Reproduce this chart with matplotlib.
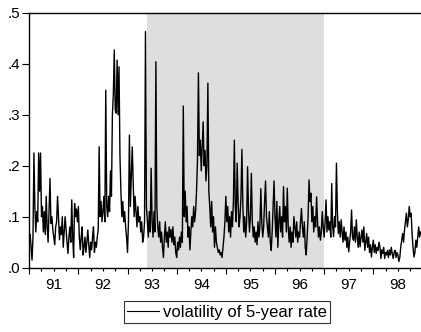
import numpy as np
import matplotlib
matplotlib.use("Agg")
import matplotlib.pyplot as plt
from matplotlib.ticker import FixedLocator, FuncFormatter

plt.rcParams["font.family"] = ["Liberation Sans", "DejaVu Sans"]

# weekly volatility of the 5-year rate, one list per year
vol_1991 = [0.06, 0.065, 0.04, 0.015, 0.06, 0.225, 0.12, 0.07, 0.11, 0.09, 0.225, 0.15, 0.225,
            0.10, 0.12, 0.07, 0.11, 0.065, 0.14, 0.08, 0.05, 0.11, 0.175, 0.087, 0.10, 0.074,
            0.06, 0.045, 0.08, 0.09, 0.14, 0.10, 0.055, 0.08, 0.065, 0.10, 0.04, 0.07, 0.10,
            0.075, 0.05, 0.028, 0.06, 0.08, 0.05, 0.133, 0.06, 0.02, 0.126, 0.10, 0.115, 0.09]
vol_1992 = [0.12, 0.06, 0.035, 0.06, 0.08, 0.025, 0.04, 0.06, 0.03, 0.05, 0.074, 0.045, 0.02,
            0.05, 0.035, 0.06, 0.08, 0.03, 0.05, 0.04, 0.06, 0.075, 0.237, 0.10, 0.13, 0.09,
            0.11, 0.14, 0.09, 0.348, 0.12, 0.10, 0.14, 0.11, 0.19, 0.14, 0.30, 0.34, 0.427,
            0.31, 0.303, 0.407, 0.30, 0.394, 0.22, 0.15, 0.10, 0.13, 0.09, 0.11, 0.08, 0.06]
vol_1993 = [0.03, 0.09, 0.26, 0.12, 0.18, 0.237, 0.17, 0.10, 0.14, 0.11, 0.08, 0.12, 0.09,
            0.10, 0.07, 0.09, 0.05, 0.06, 0.09, 0.463, 0.12, 0.09, 0.06, 0.11, 0.07, 0.195,
            0.09, 0.06, 0.11, 0.07, 0.404, 0.12, 0.08, 0.06, 0.09, 0.05, 0.07, 0.04, 0.02,
            0.06, 0.09, 0.05, 0.07, 0.04, 0.08, 0.06, 0.075, 0.05, 0.08, 0.045, 0.06, 0.03]
vol_1994 = [0.02, 0.05, 0.035, 0.06, 0.04, 0.07, 0.05, 0.317, 0.10, 0.15, 0.09, 0.12, 0.06,
            0.08, 0.035, 0.07, 0.10, 0.08, 0.12, 0.09, 0.11, 0.15, 0.21, 0.382, 0.22, 0.25,
            0.19, 0.24, 0.286, 0.20, 0.23, 0.17, 0.20, 0.362, 0.15, 0.12, 0.08, 0.13, 0.07,
            0.10, 0.04, 0.08, 0.05, 0.04, 0.03, 0.035, 0.025, 0.03, 0.02, 0.04, 0.06, 0.09]
vol_1995 = [0.14, 0.09, 0.12, 0.07, 0.10, 0.06, 0.11, 0.08, 0.13, 0.25, 0.12, 0.09, 0.205,
            0.13, 0.08, 0.10, 0.14, 0.232, 0.12, 0.07, 0.10, 0.06, 0.09, 0.198, 0.11, 0.07,
            0.10, 0.185, 0.09, 0.06, 0.08, 0.05, 0.07, 0.045, 0.09, 0.06, 0.08, 0.155, 0.09,
            0.06, 0.08, 0.13, 0.17, 0.10, 0.08, 0.06, 0.11, 0.05, 0.034, 0.07, 0.12, 0.17]
vol_1996 = [0.10, 0.06, 0.13, 0.04, 0.09, 0.12, 0.07, 0.10, 0.06, 0.159, 0.09, 0.12, 0.07,
            0.156, 0.08, 0.05, 0.08, 0.04, 0.07, 0.05, 0.10, 0.08, 0.06, 0.09, 0.05, 0.07,
            0.06, 0.09, 0.116, 0.08, 0.06, 0.09, 0.04, 0.025, 0.06, 0.10, 0.172, 0.13, 0.146,
            0.09, 0.12, 0.07, 0.10, 0.08, 0.139, 0.09, 0.06, 0.08, 0.054, 0.07, 0.11, 0.08]
vol_1997 = [0.06, 0.09, 0.133, 0.07, 0.10, 0.074, 0.09, 0.06, 0.165, 0.08, 0.061, 0.10, 0.08,
            0.205, 0.11, 0.067, 0.09, 0.06, 0.094, 0.07, 0.05, 0.08, 0.054, 0.07, 0.04, 0.06,
            0.031, 0.05, 0.07, 0.113, 0.06, 0.054, 0.08, 0.05, 0.094, 0.06, 0.04, 0.07, 0.041,
            0.06, 0.074, 0.05, 0.08, 0.034, 0.05, 0.067, 0.04, 0.06, 0.03, 0.045, 0.021, 0.04]
vol_1998 = [0.054, 0.03, 0.045, 0.028, 0.04, 0.034, 0.05, 0.041, 0.018, 0.035, 0.028, 0.04,
            0.018, 0.03, 0.025, 0.034, 0.02, 0.035, 0.025, 0.04, 0.028, 0.018, 0.03, 0.034,
            0.02, 0.03, 0.025, 0.012, 0.02, 0.04, 0.054, 0.067, 0.05, 0.074, 0.09, 0.107,
            0.08, 0.094, 0.12, 0.10, 0.107, 0.067, 0.04, 0.021, 0.03, 0.054, 0.04, 0.06, 0.08,
            0.06, 0.07]

years = [1991, 1992, 1993, 1994, 1995, 1996, 1997, 1998]
year_labels = ["91", "92", "93", "94", "95", "96", "97", "98"]
shade_start, shade_end = 1993.39, 1997.0
y_ticks = [0.0, 0.1, 0.2, 0.3, 0.4, 0.5]

vol = np.array(vol_1991 + vol_1992 + vol_1993 + vol_1994 + vol_1995 + vol_1996 + vol_1997 + vol_1998)
t = 1991.0 + np.arange(len(vol)) / 52.0

fig = plt.figure(figsize=(4.21, 3.32), dpi=100)
ax = fig.add_axes([29.2 / 421, 1 - 267.7 / 332, 1 - 29.2 / 421, (267.7 - 12.7) / 332])

ax.axvspan(shade_start, shade_end, color="#dedede", lw=0, zorder=0)
ax.plot(t, vol, color="black", lw=1.0, label="volatility of 5-year rate", zorder=2)

ax.set_xlim(1991.0, 1998.97)
ax.set_ylim(0, 0.5)
ax.spines["right"].set_visible(False)
for s in ["top", "left", "bottom"]:
    ax.spines[s].set_linewidth(1.0)

ax.set_yticks(y_ticks)
ax.set_yticklabels(["." + f"{v:.1f}".split(".")[1] for v in y_ticks])
ax.tick_params(axis="y", direction="out", length=5, width=0.8, labelsize=11, pad=1.5)

# year boundaries: long ticks, no labels; quarters: short ticks, label at mid-year
ax.xaxis.set_major_locator(FixedLocator([y for y in years] + [1999]))
ax.xaxis.set_major_formatter(FuncFormatter(lambda v, p: ""))
quarters = [y + q for y in years for q in (0.25, 0.5, 0.75)]
ax.xaxis.set_minor_locator(FixedLocator(quarters))
lab = {y + 0.5: s for y, s in zip(years, year_labels)}
ax.xaxis.set_minor_formatter(FuncFormatter(lambda v, p: lab.get(round(v, 2), "")))
ax.tick_params(axis="x", which="major", direction="out", length=4.3, width=0.8)
ax.tick_params(axis="x", which="minor", direction="out", length=2.5, width=0.8,
               labelsize=11, pad=5)

leg = fig.legend(loc="center", bbox_to_anchor=(227 / 421, 1 - 312.2 / 332),
                 fontsize=12, frameon=True, fancybox=False, handlelength=1.9,
                 handletextpad=0.25, borderpad=0.2)
leg.get_frame().set_edgecolor("black")
leg.get_frame().set_linewidth(0.8)
leg.get_lines()[0].set_linewidth(0.8)

fig.savefig("out.png", dpi=100)
